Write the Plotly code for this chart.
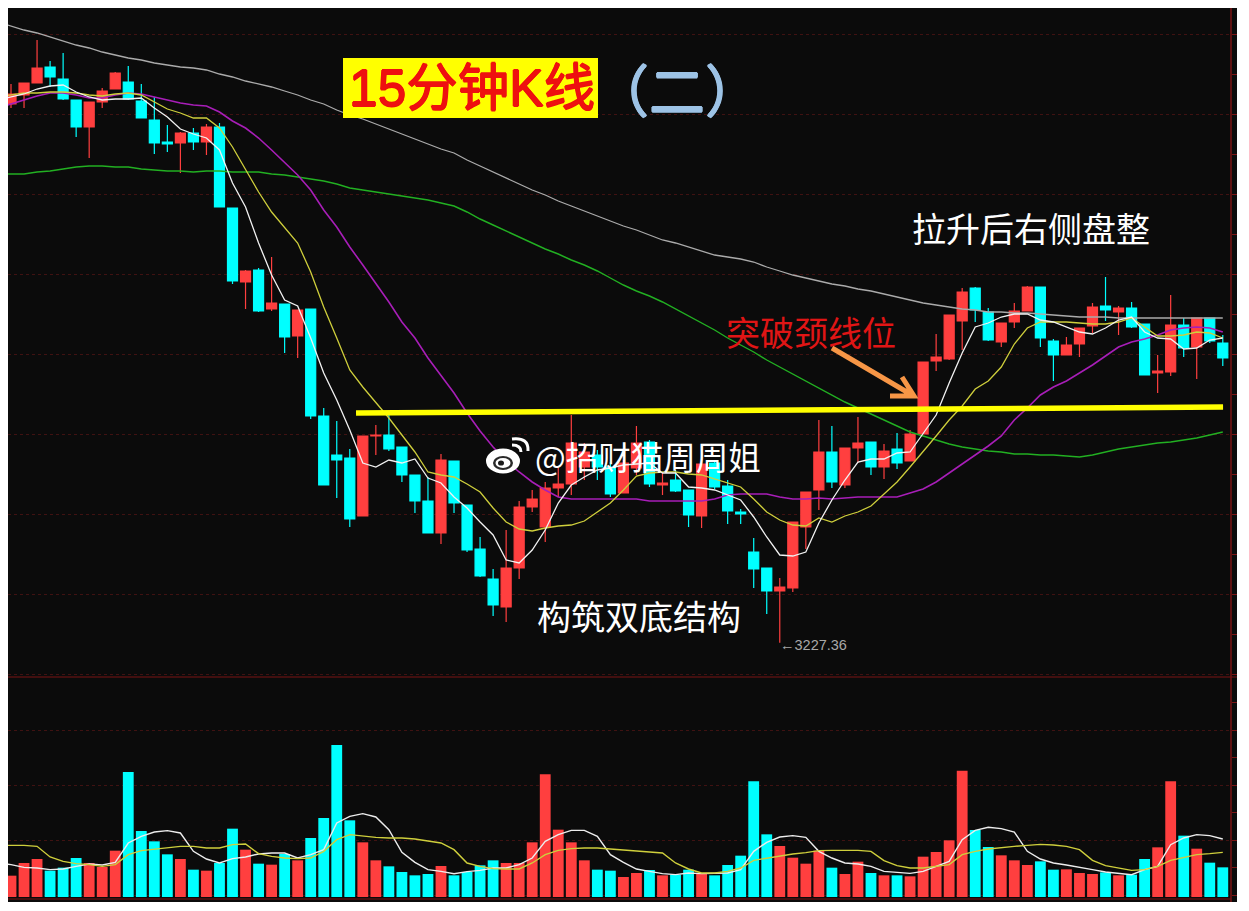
import plotly.graph_objects as go

# Price pane values (the reference has no price scale apart from the 3227.36 low label)
open_ = [3766,3775,3787,3803,3791,3770,3743,3768,3781,3788,
         3769,3750,3728,3727,3737,3728,3743,3662,3588,3600,
         3561,3566,3534,3561,3454,3415,3412,3354,3434,3435,
         3423,3395,3369,3337,3409,3365,3321,3291,3263,3302,
         3363,3343,3382,3386,3403,3415,3403,3377,3402,3428,
         3385,3390,3380,3354,3407,3384,3358,3318,3302,3279,
         3282,3343,3380,3418,3385,3422,3428,3403,3421,3409,
         3436,3509,3511,3549,3582,3558,3528,3548,3559,3583,
         3529,3515,3526,3544,3564,3558,3562,3546,3497,3498,
         3545,3523,3552,3527]
close = [3776,3787,3802,3793,3771,3743,3768,3779,3797,3771,
         3752,3727,3726,3737,3728,3743,3663,3589,3599,3559,
         3567,3533,3560,3454,3385,3410,3351,3434,3435,3421,
         3395,3369,3337,3410,3367,3320,3294,3265,3302,3363,
         3371,3382,3386,3427,3418,3403,3376,3407,3427,3386,
         3387,3379,3355,3406,3383,3359,3356,3301,3279,3283,
         3348,3378,3418,3388,3422,3427,3403,3419,3407,3436,
         3508,3513,3555,3578,3560,3530,3547,3559,3583,3532,
         3515,3525,3542,3563,3560,3562,3543,3495,3499,3545,
         3522,3552,3529,3512]
high = [3786,3787,3830,3809,3817,3770,3768,3782,3798,3804,
        3786,3773,3745,3738,3742,3746,3747,3662,3600,3602,
        3613,3566,3560,3561,3462,3449,3421,3434,3445,3455,
        3423,3395,3393,3416,3409,3365,3333,3301,3340,3369,
        3380,3388,3402,3455,3427,3420,3408,3410,3444,3430,
        3397,3400,3380,3406,3410,3390,3361,3332,3302,3292,
        3348,3378,3450,3444,3422,3453,3428,3426,3437,3440,
        3508,3536,3555,3582,3583,3562,3547,3567,3584,3583,
        3531,3533,3542,3567,3593,3564,3568,3546,3515,3575,
        3552,3552,3552,3535]
low = [3762,3762,3787,3783,3770,3733,3712,3762,3781,3770,
       3752,3716,3718,3697,3720,3715,3663,3586,3561,3558,
       3559,3517,3512,3451,3385,3372,3343,3354,3415,3419,
       3388,3357,3337,3326,3357,3318,3293,3254,3248,3291,
       3358,3328,3373,3375,3390,3390,3373,3377,3395,3383,
       3375,3378,3343,3342,3381,3346,3346,3282,3256,3227.36,
       3278,3321,3360,3382,3382,3407,3395,3391,3401,3409,
       3436,3499,3510,3520,3548,3529,3523,3542,3559,3523,
       3489,3515,3513,3537,3549,3535,3542,3495,3477,3494,
       3513,3491,3527,3504]

# Moving averages start one bar before the first visible candle
ma_white = [3770,3773,3776,3781,3784,3785,3778,3773,3770,3771,3771,
            3772,3762,3753,3741,3736,3732,3720,3687,3663,3627,
            3595,3570,3564,3532,3497,3470,3440,3407,3403,3410,
            3407,3411,3392,3387,3373,3362,3348,3335,3310,3307,
            3320,3340,3367,3385,3393,3400,3402,3405,3406,3407,
            3397,3397,3383,3382,3380,3375,3370,3353,3333,3315,
            3314,3318,3347,3370,3390,3408,3411,3411,3417,3418,
            3437,3455,3487,3517,3543,3547,3553,3556,3556,3550,
            3548,3543,3538,3536,3542,3550,3553,3538,3532,3531,
            3521,3522,3530,3532]
ma_yellow = [3773,3775,3777,3777,3778,3778,3777,3775,3774,3776,3777,
             3775,3768,3761,3757,3752,3752,3742,3723,3700,3678,
             3658,3642,3627,3598,3563,3532,3500,3483,3468,3452,
             3435,3418,3398,3395,3393,3386,3378,3362,3348,3341,
             3339,3342,3344,3345,3349,3358,3367,3380,3394,3397,
             3398,3398,3396,3395,3391,3387,3383,3371,3358,3350,
             3345,3344,3352,3348,3354,3358,3364,3376,3388,3403,
             3418,3434,3450,3464,3481,3489,3503,3526,3542,3548,
             3548,3548,3547,3546,3546,3548,3552,3543,3534,3534,
             3535,3538,3537,3532]
ma_magenta = [3762,3766,3770,3774,3777,3777,3775,3772,3772,3775,3777,
              3776,3773,3770,3767,3765,3764,3758,3749,3742,3732,
              3720,3707,3695,3680,3660,3643,3623,3605,3587,3568,
              3548,3532,3512,3494,3477,3457,3439,3423,3409,3398,
              3388,3380,3373,3371,3371,3371,3371,3371,3371,3369,
              3369,3369,3369,3369,3371,3375,3376,3376,3376,3373,
              3371,3371,3372,3371,3372,3373,3373,3373,3373,3377,
              3381,3388,3397,3406,3415,3424,3434,3450,3462,3475,
              3483,3489,3497,3505,3514,3523,3528,3531,3535,3540,
              3542,3543,3542,3538]
ma_green = [3696,3696,3696,3698,3699,3701,3703,3704,3704,3703,3703,
            3701,3700,3699,3699,3698,3699,3699,3698,3698,3698,
            3696,3695,3693,3691,3689,3686,3682,3680,3678,3676,
            3674,3672,3670,3667,3664,3658,3651,3645,3639,3633,
            3627,3621,3616,3610,3605,3599,3592,3585,3579,3574,
            3568,3561,3554,3547,3540,3532,3525,3518,3510,3503,
            3496,3489,3482,3475,3468,3462,3456,3450,3444,3438,
            3434,3430,3426,3423,3421,3419,3418,3416,3416,3415,
            3415,3414,3413,3415,3418,3421,3423,3425,3427,3428,
            3430,3432,3435,3438]
ma_gray = [3848,3844,3840,3837,3833,3829,3825,3822,3818,3815,3812,
           3810,3807,3805,3803,3802,3800,3796,3793,3789,3786,
           3783,3779,3775,3770,3766,3760,3755,3751,3746,3741,
           3736,3731,3726,3721,3717,3710,3704,3698,3692,3686,
           3680,3675,3669,3664,3659,3654,3649,3644,3640,3635,
           3630,3627,3623,3619,3615,3613,3611,3608,3603,3599,
           3595,3592,3589,3586,3584,3581,3579,3576,3573,3570,
           3567,3565,3563,3561,3560,3558,3558,3557,3557,3556,
           3555,3554,3553,3553,3553,3552,3552,3552,3552,3552,
           3552,3552,3552,3552]

neck_x = [26.48, 93.02]
neck_price = [3457, 3463]
low_candle = 59
low_price = 3227.36

# Volume pane values
volume = [64,102,114,79,88,117,102,90,139,375,
          198,167,128,114,82,79,102,205,142,100,
          97,129,110,177,237,456,230,164,110,92,
          75,65,69,93,65,75,95,110,102,102,
          164,368,202,164,110,82,79,60,72,81,
          65,67,82,69,65,96,124,347,188,153,
          118,100,139,88,69,106,72,65,65,62,
          121,135,170,379,201,150,125,110,96,107,
          82,83,72,69,74,65,67,114,149,347,
          184,145,103,89]
vol_ma_white = [102,97,89,87,82,84,92,99,96,104,162,
                182,195,199,192,137,114,102,115,120,129,
                132,132,117,127,142,222,242,250,240,202,
                134,104,82,77,70,76,80,87,87,97,
                117,167,187,200,200,182,127,104,84,77,
                70,67,72,70,70,72,82,137,164,180,
                184,179,137,117,102,99,92,77,74,71,
                77,92,107,172,200,209,205,195,137,114,
                102,96,90,82,75,72,67,82,92,157,
                177,187,184,174]
vol_ma_yellow = [155,155,155,152,120,107,100,97,92,97,127,
                 139,144,149,152,152,147,147,157,159,130,
                 122,117,115,117,137,172,187,182,179,177,
                 177,174,169,162,142,102,92,85,84,84,
                 102,127,140,145,147,147,144,141,140,137,
                 132,102,84,72,72,77,87,110,117,122,
                 129,133,139,140,140,140,137,109,94,87,
                 87,92,97,127,137,144,149,152,155,158,
                 156,152,142,110,94,87,80,82,92,110,
                 119,127,130,134]

candle_index = list(range(len(open_)))
ma_index = [-1] + candle_index

RED = "#FF3F3F"
CYAN = "#00FFFF"
BG = "#0B0B0B"
RULE = "#7A1414"
GRID = "#401212"

# Page geometry: the browser's 8px body margin places the figure at (8, 8)
FIG_W, FIG_H = 1229, 894
PLOT_W = FIG_W - 6


def px(x):
    return (x - 8) / PLOT_W


def py(y):
    return (902 - y) / FIG_H


fig = go.Figure()

fig.add_trace(go.Candlestick(
    x=candle_index, open=open_, high=high, low=low, close=close,
    increasing=dict(line=dict(color=RED, width=1.2), fillcolor=RED),
    decreasing=dict(line=dict(color=CYAN, width=1.2), fillcolor=CYAN),
    whiskerwidth=0, showlegend=False, hoverinfo="skip",
))

for series, colour, width in [
    (ma_gray, "#ABABAB", 1.3),
    (ma_green, "#22B022", 1.4),
    (ma_magenta, "#A81EB8", 1.6),
    (ma_yellow, "#CFCF3C", 1.3),
    (ma_white, "#F2F2F2", 1.3),
]:
    fig.add_trace(go.Scatter(x=ma_index, y=series, mode="lines",
                             line=dict(color=colour, width=width),
                             showlegend=False, hoverinfo="skip"))

fig.add_trace(go.Scatter(x=neck_x, y=neck_price, mode="lines",
                         line=dict(color="#FFFF00", width=5.5),
                         showlegend=False, hoverinfo="skip"))

fig.add_trace(go.Bar(
    x=candle_index, y=volume, yaxis="y2", width=0.83,
    marker=dict(color=[RED if c >= o else CYAN for o, c in zip(open_, close)], line=dict(width=0)),
    showlegend=False, hoverinfo="skip",
))
fig.add_trace(go.Scatter(x=ma_index, y=vol_ma_white, yaxis="y2", mode="lines",
                         line=dict(color="#EDEDED", width=1.4),
                         showlegend=False, hoverinfo="skip"))
fig.add_trace(go.Scatter(x=ma_index, y=vol_ma_yellow, yaxis="y2", mode="lines",
                         line=dict(color="#CFCF3C", width=1.4),
                         showlegend=False, hoverinfo="skip"))


def path_curve(x0, y0, cx, cy, x1, y1):
    return f"M {px(x0)} {py(y0)} Q {px(cx)} {py(cy)} {px(x1)} {py(y1)}"


def ellipse(cx, cy, rx, ry, colour):
    return dict(type="circle", xref="paper", yref="paper", layer="above",
                x0=px(cx - rx), x1=px(cx + rx), y0=py(cy + ry), y1=py(cy - ry),
                fillcolor=colour, line=dict(width=0))


arrow_path = (f"M {px(832)} {py(348)} L {px(912)} {py(395)} "
              f"M {px(890)} {py(396)} L {px(914)} {py(396)} L {px(902)} {py(377)}")

shapes = [
    # Title plate
    dict(type="rect", xref="paper", yref="paper", layer="above",
         x0=px(343), x1=px(598), y0=py(118), y1=py(58),
         fillcolor="#FFFF00", line=dict(width=0)),
    # Pane frame
    dict(type="line", xref="paper", yref="paper", x0=0, x1=(FIG_W / PLOT_W), y0=py(677), y1=py(677),
         line=dict(color=RULE, width=1)),
    dict(type="line", xref="paper", yref="paper", x0=px(8), x1=px(1231), y0=py(899), y1=py(899),
         line=dict(color=RULE, width=1)),
    dict(type="line", xref="paper", yref="paper", x0=1, x1=1, y0=0, y1=1,
         line=dict(color=RULE, width=1.5)),
    # Breakout arrow
    dict(type="path", xref="paper", yref="paper", layer="above", path=arrow_path,
         line=dict(color="#F79646", width=5)),
    # Watermark logo
    ellipse(503, 461, 17, 12.5, "#FFFFFF"),
    ellipse(503, 463, 10, 7, "#2A2A2A"),
    ellipse(503, 463, 7.5, 5, "#FFFFFF"),
    ellipse(501, 463, 3, 2.6, "#1A1A1A"),
    dict(type="path", xref="paper", yref="paper", layer="above",
         path=path_curve(512, 439, 529, 437, 528, 451), line=dict(color="#FFFFFF", width=3)),
    dict(type="path", xref="paper", yref="paper", layer="above",
         path=path_curve(512, 445, 521, 445, 521, 452), line=dict(color="#FFFFFF", width=3)),
]


def note(text, x, y, size, colour, family="Noto Sans CJK SC", shadow=None):
    font = dict(size=size, color=colour, family=family)
    if shadow:
        font["shadow"] = shadow
    return dict(text=text, xref="paper", yref="paper", x=px(x), y=py(y),
                xanchor="center", yanchor="middle", showarrow=False, font=font)


def thicken(colour):
    return f"0.7px 0 0 {colour}, -0.7px 0 0 {colour}, 0 0.7px 0 {colour}, 0 -0.7px 0 {colour}"


annotations = [
    note("15分钟K线", 472, 88, 51.5, "#EE1010", "Liberation Sans, Noto Sans CJK SC", thicken("#EE1010")),
    note("（二）", 677, 87, 56, "#9DC3E6", shadow=thicken("#9DC3E6")),
    note("拉升后右侧盘整", 1031, 227, 34, "#FFFFFF"),
    note("突破颈线位", 811, 331, 34, "#E01515"),
    note("构筑双底结构", 639, 615, 34, "#FFFFFF"),
    note("@招财猫周周姐", 648, 455, 32.5, "#FFFFFF"),
    dict(text="←" + str(low_price), xref="x", yref="y", x=low_candle, y=low_price,
         xanchor="left", yanchor="middle", yshift=-2, xshift=-2, showarrow=False,
         font=dict(size=14.5, color="#A8A8A8", family="Liberation Sans")),
]

fig.update_layout(
    width=FIG_W, height=FIG_H, autosize=False,
    margin=dict(l=0, r=6, t=0, b=0, pad=0),
    paper_bgcolor=BG, plot_bgcolor=BG,
    barmode="overlay", boxgap=0.23, boxgroupgap=0, hovermode=False, showlegend=False,
    xaxis=dict(type="linear", range=[(8 - 11) / 13.03, (1231 - 11) / 13.03], visible=False,
               rangeslider=dict(visible=False), fixedrange=True),
    yaxis=dict(domain=[py(677), 1], range=[3870 - 677, 3870 - 8], side="right", anchor="x",
               tick0=3836, dtick=80, ticks="outside", ticklen=6, tickcolor=RULE,
               showticklabels=False, showgrid=True, gridcolor=GRID, griddash="dot", gridwidth=1,
               zeroline=False, showline=False, fixedrange=True,
               minor=dict(tick0=3836, dtick=40, ticks="outside", ticklen=6, tickcolor=RULE, showgrid=False)),
    yaxis2=dict(domain=[py(897), py(677)], range=[0, 660], side="right", anchor="x",
                tick0=6, dtick=165, ticks="outside", ticklen=6, tickcolor=RULE,
                showticklabels=False, showgrid=True, gridcolor=GRID, griddash="dot", gridwidth=1,
                zeroline=False, showline=False, fixedrange=True,
                minor=dict(tick0=6, dtick=82.5, ticks="outside", ticklen=6, tickcolor=RULE, showgrid=False)),
    shapes=shapes, annotations=annotations,
)

fig.write_html("out.html", config=dict(displayModeBar=False))
